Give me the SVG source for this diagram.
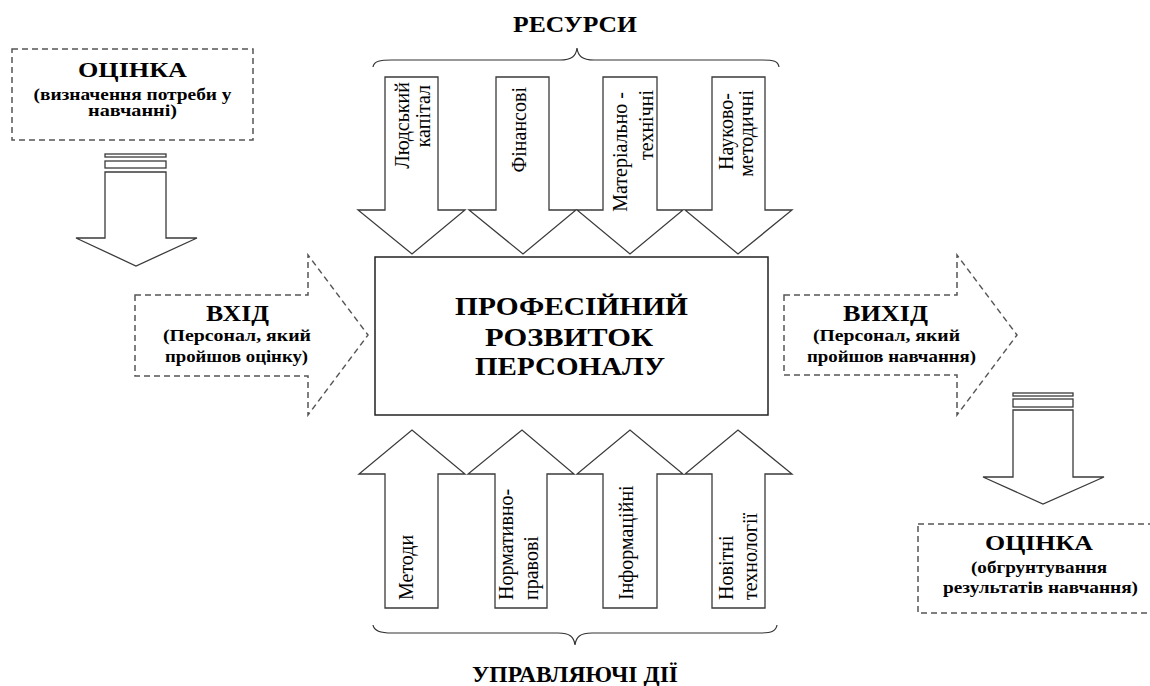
<svg xmlns="http://www.w3.org/2000/svg" width="1150" height="686" viewBox="0 0 1150 686">
<rect width="1150" height="686" fill="#fff"/>

<g id="resources-title">
<text font-family="Liberation Serif" font-weight="bold" text-anchor="middle" x="575" y="32" font-size="23" textLength="124" lengthAdjust="spacingAndGlyphs">РЕСУРСИ</text>
<path fill="none" stroke="#333" stroke-width="1.2" d="M373,67 C374,61 380,60 392,60 L560,60 C572,60 576,56 577,48 C578,56 582,60 594,60 L762,60 C774,60 778,61 779,67"/>
</g>

<g id="assessment-top">
<rect fill="#fff" stroke="#555" stroke-width="1.5" stroke-dasharray="6,4" x="12" y="49" width="241" height="91"/>
<text font-family="Liberation Serif" font-weight="bold" text-anchor="middle" x="132.5" y="77" font-size="22" textLength="109" lengthAdjust="spacingAndGlyphs">ОЦІНКА</text>
<text font-family="Liberation Serif" font-weight="bold" text-anchor="middle" x="132.5" y="100" font-size="16" textLength="198" lengthAdjust="spacingAndGlyphs">(визначення потреби у</text>
<text font-family="Liberation Serif" font-weight="bold" text-anchor="middle" x="132.5" y="116" font-size="16" textLength="89" lengthAdjust="spacingAndGlyphs">навчанні)</text>
</g>

<g id="arrow-down-left" fill="#fff" stroke="#3a3a3a" stroke-width="1.3">
<rect x="105" y="154" width="61" height="3"/>
<rect x="105" y="161" width="61" height="7"/>
<path d="M105,172 L166,172 L166,238 L197,238 L136,266 L76,238 L105,238 Z"/>
</g>

<g id="res-1">
<path fill="#fff" stroke="#3a3a3a" stroke-width="1.3" d="M385,77 L438,77 L438,210 L465,210 L412,254 L358,210 L385,210 Z"/>
<text font-family="Liberation Serif" font-size="20" text-anchor="end" transform="translate(409,82) rotate(-90)">Людський</text>
<text font-family="Liberation Serif" font-size="20" text-anchor="end" transform="translate(430,85) rotate(-90)">капітал</text>
</g>
<g id="res-2">
<path fill="#fff" stroke="#3a3a3a" stroke-width="1.3" d="M496,77 L549,77 L549,210 L576,210 L523,254 L469,210 L496,210 Z"/>
<text font-family="Liberation Serif" font-size="20" text-anchor="end" transform="translate(526,87) rotate(-90)">Фінансові</text>
</g>
<g id="res-3">
<path fill="#fff" stroke="#3a3a3a" stroke-width="1.3" d="M603,77 L657,77 L657,210 L683,210 L630,254 L577,210 L603,210 Z"/>
<text font-family="Liberation Serif" font-size="20" text-anchor="end" transform="translate(627,92) rotate(-90)">Матеріально -</text>
<text font-family="Liberation Serif" font-size="20" text-anchor="end" transform="translate(653,90) rotate(-90)">технічні</text>
</g>
<g id="res-4">
<path fill="#fff" stroke="#3a3a3a" stroke-width="1.3" d="M712,77 L765,77 L765,210 L792,210 L738,254 L685,210 L712,210 Z"/>
<text font-family="Liberation Serif" font-size="20" text-anchor="end" transform="translate(733,93) rotate(-90)">Науково-</text>
<text font-family="Liberation Serif" font-size="20" text-anchor="end" transform="translate(753,90) rotate(-90)">методичні</text>
</g>

<g id="center">
<rect fill="#fff" stroke="#222" stroke-width="1.5" x="375" y="257" width="393" height="158"/>
<text font-family="Liberation Serif" font-weight="bold" text-anchor="middle" x="571.5" y="315" font-size="26" textLength="233" lengthAdjust="spacingAndGlyphs">ПРОФЕСІЙНИЙ</text>
<text font-family="Liberation Serif" font-weight="bold" text-anchor="middle" x="569" y="346" font-size="26" textLength="168" lengthAdjust="spacingAndGlyphs">РОЗВИТОК</text>
<text font-family="Liberation Serif" font-weight="bold" text-anchor="middle" x="570" y="375" font-size="26" textLength="190" lengthAdjust="spacingAndGlyphs">ПЕРСОНАЛУ</text>
</g>

<g id="input">
<path fill="#fff" stroke="#555" stroke-width="1.5" stroke-dasharray="6,4" d="M135,295 L308,295 L308,255 L368,335 L308,415 L308,376 L135,376 Z"/>
<text font-family="Liberation Serif" font-weight="bold" text-anchor="middle" x="237.5" y="321" font-size="23" textLength="63" lengthAdjust="spacingAndGlyphs">ВХІД</text>
<text font-family="Liberation Serif" font-weight="bold" text-anchor="middle" x="237" y="341" font-size="17" textLength="148" lengthAdjust="spacingAndGlyphs">(Персонал, який</text>
<text font-family="Liberation Serif" font-weight="bold" text-anchor="middle" x="236.5" y="362" font-size="17" textLength="143" lengthAdjust="spacingAndGlyphs">пройшов оцінку)</text>
</g>

<g id="output">
<path fill="#fff" stroke="#555" stroke-width="1.5" stroke-dasharray="6,4" d="M784,295 L957,295 L957,255 L1017,335 L957,415 L957,375 L784,375 Z"/>
<text font-family="Liberation Serif" font-weight="bold" text-anchor="middle" x="885.5" y="321" font-size="23" textLength="85" lengthAdjust="spacingAndGlyphs">ВИХІД</text>
<text font-family="Liberation Serif" font-weight="bold" text-anchor="middle" x="886.5" y="341" font-size="17" textLength="147" lengthAdjust="spacingAndGlyphs">(Персонал, який</text>
<text font-family="Liberation Serif" font-weight="bold" text-anchor="middle" x="891.5" y="362" font-size="17" textLength="169" lengthAdjust="spacingAndGlyphs">пройшов навчання)</text>
</g>

<g id="ctl-1">
<path fill="#fff" stroke="#3a3a3a" stroke-width="1.3" d="M385,608 L438,608 L438,474 L465,474 L412,430 L359,474 L385,474 Z"/>
<text font-family="Liberation Serif" font-size="20" transform="translate(413,600) rotate(-90)">Методи</text>
</g>
<g id="ctl-2">
<path fill="#fff" stroke="#3a3a3a" stroke-width="1.3" d="M495,608 L547,608 L547,474 L574,474 L522,430 L468,474 L495,474 Z"/>
<text font-family="Liberation Serif" font-size="20" transform="translate(513,600) rotate(-90)">Нормативно-</text>
<text font-family="Liberation Serif" font-size="20" transform="translate(538,600) rotate(-90)">правові</text>
</g>
<g id="ctl-3">
<path fill="#fff" stroke="#3a3a3a" stroke-width="1.3" d="M603,608 L657,608 L657,474 L683,474 L630,430 L577,474 L603,474 Z"/>
<text font-family="Liberation Serif" font-size="20" transform="translate(633,600) rotate(-90)">Інформаційні</text>
</g>
<g id="ctl-4">
<path fill="#fff" stroke="#3a3a3a" stroke-width="1.3" d="M712,608 L765,608 L765,474 L792,474 L738,430 L685,474 L712,474 Z"/>
<text font-family="Liberation Serif" font-size="20" transform="translate(733,600) rotate(-90)">Новітні</text>
<text font-family="Liberation Serif" font-size="20" transform="translate(757,600) rotate(-90)">технології</text>
</g>

<g id="control-title">
<path fill="none" stroke="#333" stroke-width="1.2" d="M373,625 C374,631 380,633 392,633 L558,633 C570,633 574,637 575,645 C576,637 580,633 592,633 L760,633 C772,633 776,631 777,625"/>
<text font-family="Liberation Serif" font-weight="bold" text-anchor="middle" x="575" y="682" font-size="23" textLength="206" lengthAdjust="spacingAndGlyphs">УПРАВЛЯЮЧІ ДІЇ</text>
</g>

<g id="arrow-down-right" fill="#fff" stroke="#3a3a3a" stroke-width="1.3">
<rect x="1013" y="393" width="60" height="3"/>
<rect x="1013" y="399" width="60" height="8"/>
<path d="M1013,410 L1073,410 L1073,477 L1104,477 L1043,504 L983,477 L1013,477 Z"/>
</g>

<g id="assessment-bottom">
<rect fill="#fff" stroke="#555" stroke-width="1.5" stroke-dasharray="6,4" x="918" y="524" width="240" height="89"/>
<text font-family="Liberation Serif" font-weight="bold" text-anchor="middle" x="1039" y="550" font-size="22" textLength="108" lengthAdjust="spacingAndGlyphs">ОЦІНКА</text>
<text font-family="Liberation Serif" font-weight="bold" text-anchor="middle" x="1039" y="573" font-size="16" textLength="136" lengthAdjust="spacingAndGlyphs">(обгрунтування</text>
<text font-family="Liberation Serif" font-weight="bold" text-anchor="middle" x="1040.5" y="593" font-size="16" textLength="195" lengthAdjust="spacingAndGlyphs">результатів навчання)</text>
</g>
</svg>
